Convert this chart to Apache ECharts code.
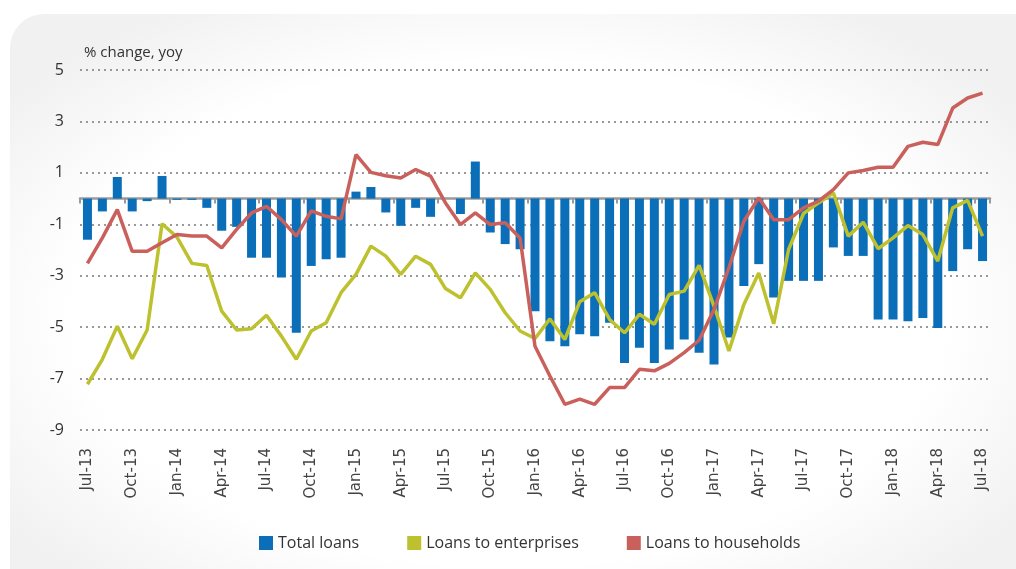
<!DOCTYPE html>
<html>
<head>
<meta charset="utf-8">
<script src="https://cdn.jsdelivr.net/npm/echarts@6/dist/echarts.min.js"></script>
<style>
  html, body { margin: 0; padding: 0; background: #fff; }
  #card {
    position: absolute; left: 10px; top: 14px; width: 1040px; height: 600px;
    border-radius: 34px;
    background: radial-gradient(ellipse 60% 60% at 48% 50%, #ffffff 70%, #f1f1f1 100%);
  }
  #main { position: absolute; left: 0; top: 0; width: 1016px; height: 569px; }
</style>
</head>
<body>
<div id="card"></div>
<div id="main"></div>
<script>
// 月份 Jul-13 .. Jul-18
const months = ['Jul-13','Aug-13','Sep-13','Oct-13','Nov-13','Dec-13',
  'Jan-14','Feb-14','Mar-14','Apr-14','May-14','Jun-14','Jul-14','Aug-14','Sep-14','Oct-14','Nov-14','Dec-14',
  'Jan-15','Feb-15','Mar-15','Apr-15','May-15','Jun-15','Jul-15','Aug-15','Sep-15','Oct-15','Nov-15','Dec-15',
  'Jan-16','Feb-16','Mar-16','Apr-16','May-16','Jun-16','Jul-16','Aug-16','Sep-16','Oct-16','Nov-16','Dec-16',
  'Jan-17','Feb-17','Mar-17','Apr-17','May-17','Jun-17','Jul-17','Aug-17','Sep-17','Oct-17','Nov-17','Dec-17',
  'Jan-18','Feb-18','Mar-18','Apr-18','May-18','Jun-18','Jul-18'];

const totalLoans = [-1.6,-0.5,0.84,-0.5,-0.1,0.88,-0.05,-0.05,-0.36,-1.25,-1.1,-2.3,-2.3,-3.07,-5.22,-2.62,-2.36,-2.3,
  0.27,0.45,-0.54,-1.06,-0.36,-0.71,0,-0.6,1.44,-1.32,-1.77,-1.97,
  -4.38,-5.55,-5.74,-5.28,-5.35,-4.83,-6.39,-5.8,-6.39,-5.87,-5.48,-6.0,
  -6.45,-5.4,-3.4,-2.55,-3.85,-3.2,-3.2,-3.2,-1.9,-2.23,-2.23,-4.7,
  -4.7,-4.77,-4.64,-5.03,-2.82,-1.97,-2.43];

const enterprises = [-7.22,-6.25,-4.96,-6.23,-5.11,-0.98,-1.5,-2.52,-2.6,-4.38,-5.11,-5.06,-4.54,-5.35,-6.25,-5.15,-4.83,-3.66,
  -2.95,-1.85,-2.24,-2.95,-2.24,-2.56,-3.5,-3.86,-2.89,-3.53,-4.44,-5.15,
  -5.44,-4.68,-5.48,-4.01,-3.66,-4.7,-5.22,-4.5,-4.89,-3.73,-3.6,-2.6,
  -4.18,-5.93,-4.12,-2.89,-4.87,-1.98,-0.58,-0.17,0.22,-1.46,-0.92,-1.95,
  -1.53,-1.05,-1.4,-2.43,-0.36,-0.07,-1.46];

const households = [-2.52,-1.53,-0.43,-2.05,-2.05,-1.72,-1.4,-1.46,-1.46,-1.92,-1.2,-0.56,-0.3,-0.82,-1.46,-0.48,-0.69,-0.79,
  1.71,1.02,0.89,0.8,1.13,0.87,-0.17,-1.01,-0.56,-1.01,-0.94,-1.53,
  -5.74,-6.9,-8.0,-7.8,-8.0,-7.35,-7.35,-6.64,-6.7,-6.41,-5.99,-5.51,
  -4.31,-2.69,-0.88,0.03,-0.82,-0.82,-0.36,-0.1,0.35,1.0,1.09,1.22,
  1.22,2.03,2.19,2.1,3.52,3.91,4.1];

const yTicks = { min: -9, max: 5, step: 2 };

const chart = echarts.init(document.getElementById('main'), null, { renderer: 'canvas' });
const txtFont = '"Liberation Sans Narrow", "Open Sans", sans-serif';

const option = {
  backgroundColor: 'transparent',
  animation: false,
  title: {
    text: '% change, yoy',
    left: 79, top: 40,
    textStyle: { fontFamily: txtFont, fontSize: 15, fontWeight: 'normal', color: '#333' }
  },
  legend: {
    left: 254, bottom: 13,
    itemWidth: 14, itemHeight: 14, itemGap: 48,
    icon: 'rect',
    textStyle: { fontFamily: txtFont, fontSize: 16, color: '#333' },
    data: ['Total loans', 'Loans to enterprises', 'Loans to households']
  },
  grid: { left: 80, right: 26, top: 70, bottom: 139 },
  xAxis: [
    {
      type: 'category',
      data: months,
      boundaryGap: true,
      axisLine: { onZero: true, lineStyle: { color: '#9a9a9a', width: 2.5 } },
      axisTick: { show: true, interval: 2, length: 5, lineStyle: { color: '#9a9a9a', width: 2 } },
      axisLabel: { show: false }
    },
    {
      type: 'category',
      data: months,
      position: 'bottom',
      boundaryGap: true,
      axisLine: { show: false, onZero: false },
      axisTick: { show: false },
      axisLabel: {
        interval: 2, rotate: 90, margin: 18,
        fontFamily: '"DejaVu Sans", sans-serif', fontSize: 15, color: '#444'
      }
    }
  ],
  yAxis: {
    type: 'value',
    min: yTicks.min, max: yTicks.max, interval: yTicks.step,
    axisLine: { show: false },
    axisTick: { show: false },
    axisLabel: { margin: 16, fontFamily: txtFont, fontSize: 16, color: '#333' },
    splitLine: { lineStyle: { color: '#999', width: 2, type: [2, 4] } }
  },
  series: [
    {
      name: 'Total loans', type: 'bar', data: totalLoans,
      barWidth: 9,
      itemStyle: { color: '#0a6fb8' }
    },
    {
      name: 'Loans to enterprises', type: 'line', data: enterprises,
      showSymbol: false, symbol: 'none',
      lineStyle: { color: '#bcc12d', width: 3.5 },
      itemStyle: { color: '#bcc12d' }
    },
    {
      name: 'Loans to households', type: 'line', data: households,
      showSymbol: false, symbol: 'none',
      lineStyle: { color: '#c9605c', width: 3.5 },
      itemStyle: { color: '#c9605c' }
    }
  ]
};

chart.setOption(option);
</script>
</body>
</html>
